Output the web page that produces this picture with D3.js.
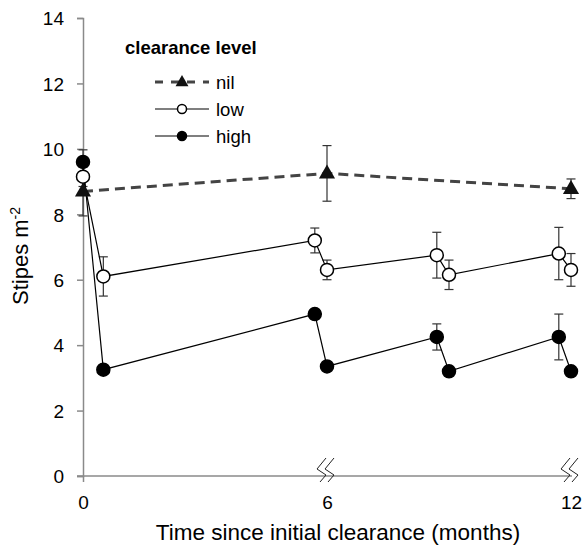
<html>
<head>
<script src="https://cdn.jsdelivr.net/npm/d3@7"></script>
<style>
body { margin: 0; background: #fff; }
svg text { font-family: "Liberation Sans", Arial, sans-serif; fill: #000; }
</style>
</head>
<body>
<svg id="chart" width="585" height="550"></svg>

<script type="text/javascript">
// months since initial clearance (plotted positions)
var nilTime  = [0, 6, 12];
var nilMean  = [8.7, 9.25, 8.78];
var nilErr   = [0.75, 0.85, 0.3];

var lowTime  = [0, 0.5, 5.7, 6, 8.7, 9, 11.7, 12];
var lowMean  = [9.15, 6.1, 7.2, 6.3, 6.75, 6.15, 6.8, 6.3];
var lowErr   = [0.3, 0.6, 0.38, 0.3, 0.7, 0.45, 0.8, 0.5];

var highTime = [0, 0.5, 5.7, 6, 8.7, 9, 11.7, 12];
var highMean = [9.6, 3.25, 4.95, 3.35, 4.25, 3.2, 4.25, 3.2];
var highErr  = [0.37, 0.1, 0.15, 0.1, 0.4, 0.15, 0.7, 0.12];

var xTicks = [0, 6, 12];
var yTicks = [0, 2, 4, 6, 8, 10, 12, 14];
var breaks = [6, 12];

var axisColor = "#8a8a8a";

var svg = d3.select("#chart");

var x = d3.scaleLinear().domain([0, 12]).range([83, 571]);
var y = d3.scaleLinear().domain([0, 14]).range([476, 18]);

function zip(t, m, e) {
  return t.map(function(d, i) { return {t: d, m: m[i], e: e[i]}; });
}
var series = [
  {name: "high", data: zip(highTime, highMean, highErr), shape: "filled"},
  {name: "low",  data: zip(lowTime, lowMean, lowErr), shape: "open"},
  {name: "nil",  data: zip(nilTime, nilMean, nilErr), shape: "tri"}
];

// y axis
var yAxis = svg.append("g")
  .attr("transform", "translate(" + x(0) + ",0)")
  .call(d3.axisLeft(y).tickValues(yTicks).tickSize(6).tickPadding(13).tickFormat(d3.format("d")));
yAxis.select(".domain").attr("stroke", axisColor).attr("stroke-width", 1.5);
yAxis.selectAll(".tick line").attr("stroke", axisColor).attr("stroke-width", 1.5);
yAxis.selectAll("text").style("font-size", "19px").attr("dy", "0.36em");

// x axis
var xAxis = svg.append("g")
  .attr("transform", "translate(0," + y(0) + ")")
  .call(d3.axisBottom(x).tickValues(xTicks).tickSize(6).tickPadding(14).tickSizeOuter(0));
xAxis.select(".domain").attr("stroke", axisColor).attr("stroke-width", 1.5)
  .attr("d", "M" + (x(0) - 6) + ",0H" + (x(12) + 1));
xAxis.selectAll(".tick line")
  .attr("stroke", axisColor).attr("stroke-width", 1.5)
  .attr("display", function(d) { return d === 0 ? null : "none"; });
xAxis.selectAll("text").style("font-size", "19px");

// axis breaks
breaks.forEach(function(b) {
  var cx = x(b), cy = y(0);
  [0, 8].forEach(function(off) {
    svg.append("path")
      .attr("d", "M" + (cx - 1 + off) + "," + (cy - 18) +
                 "L" + (cx - 10 + off) + "," + (cy - 7) +
                 "L" + (cx - 1 + off) + "," + (cy - 1) +
                 "L" + (cx - 7 + off) + "," + (cy + 6))
      .attr("fill", "none")
      .attr("stroke", "#222")
      .attr("stroke-width", 1);
  });
});

// axis titles
svg.append("text")
  .attr("x", 338).attr("y", 540)
  .attr("text-anchor", "middle")
  .style("font-size", "22.5px")
  .text("Time since initial clearance (months)");

var yl = svg.append("text")
  .attr("transform", "translate(28,256) rotate(-90)")
  .attr("text-anchor", "middle")
  .style("font-size", "22px");
yl.append("tspan").text("Stipes m");
yl.append("tspan").attr("dy", "-0.55em").style("font-size", "14px").text("-2");

// error bars
series.forEach(function(s) {
  var g = svg.append("g").attr("stroke", "#333").attr("stroke-width", 1.2);
  s.data.forEach(function(d) {
    var cx = x(d.t);
    g.append("line").attr("x1", cx).attr("x2", cx).attr("y1", y(d.m - d.e)).attr("y2", y(d.m + d.e));
    g.append("line").attr("x1", cx - 4.5).attr("x2", cx + 4.5).attr("y1", y(d.m - d.e)).attr("y2", y(d.m - d.e));
    g.append("line").attr("x1", cx - 4.5).attr("x2", cx + 4.5).attr("y1", y(d.m + d.e)).attr("y2", y(d.m + d.e));
  });
});

// lines
var line = d3.line().x(function(d) { return x(d.t); }).y(function(d) { return y(d.m); });
series.forEach(function(s) {
  svg.append("path")
    .datum(s.data)
    .attr("d", line)
    .attr("fill", "none")
    .attr("stroke", s.shape === "tri" ? "#444" : "#000")
    .attr("stroke-width", s.shape === "tri" ? 3 : 1.2)
    .attr("stroke-dasharray", s.shape === "tri" ? "10,6" : null);
});

// markers
function marker(g, shape, cx, cy, r) {
  if (shape === "tri") {
    g.append("path").attr("d", d3.symbol().type(d3.symbolTriangle).size(r * r * 2)())
      .attr("transform", "translate(" + cx + "," + (cy + 0.5) + ")")
      .attr("fill", "#111");
  } else {
    g.append("circle").attr("cx", cx).attr("cy", cy).attr("r", r)
      .attr("fill", shape === "filled" ? "#000" : "#fff")
      .attr("stroke", "#000").attr("stroke-width", 1.5);
  }
}
series.forEach(function(s) {
  var g = svg.append("g");
  s.data.forEach(function(d) {
    marker(g, s.shape, x(d.t), y(d.m), s.shape === "tri" ? 7.5 : 6.5);
  });
});

// legend
var legend = svg.append("g");
legend.append("text")
  .attr("x", 125).attr("y", 54)
  .style("font-size", "18.5px").style("font-weight", "bold")
  .text("clearance level");

var legendItems = [series[2], series[1], series[0]];
legendItems.forEach(function(s, i) {
  var ly = 82 + i * 27;
  var row = legend.append("g");
  row.append("line")
    .attr("x1", 155).attr("x2", 209).attr("y1", ly).attr("y2", ly)
    .attr("stroke", s.shape === "tri" ? "#444" : "#000")
    .attr("stroke-width", s.shape === "tri" ? 3 : 1.2)
    .attr("stroke-dasharray", s.shape === "tri" ? "8,8" : null);
  marker(row, s.shape, 182, ly, s.shape === "tri" ? 6 : 4.5);
  row.append("text")
    .attr("x", 216).attr("y", ly + 6.5)
    .style("font-size", "18.5px")
    .text(s.name);
});
</script>
</body>
</html>
